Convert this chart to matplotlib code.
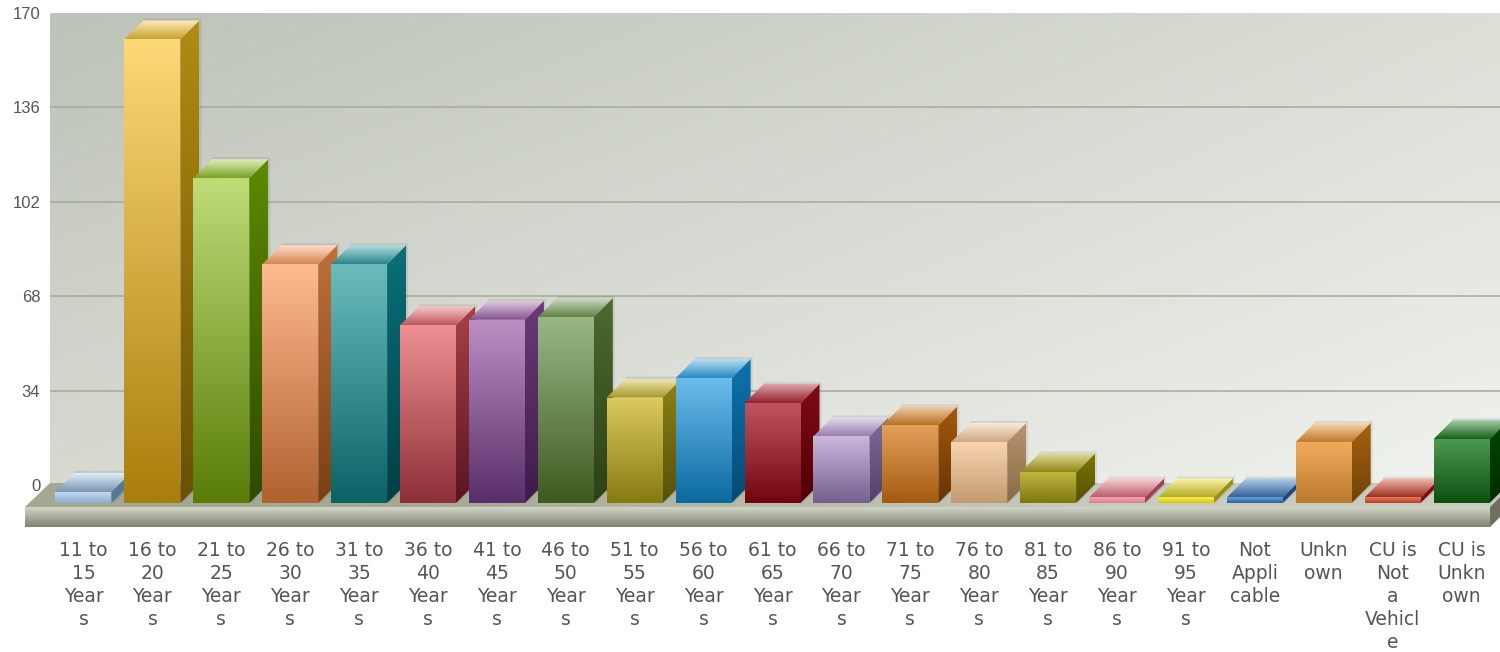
import numpy as np
import matplotlib
matplotlib.use("Agg")
import matplotlib.pyplot as plt
from matplotlib.colors import to_rgb
from matplotlib.patches import Polygon

categories = ["11 to\n15\nYear\ns", "16 to\n20\nYear\ns", "21 to\n25\nYear\ns", "26 to\n30\nYear\ns",
              "31 to\n35\nYear\ns", "36 to\n40\nYear\ns", "41 to\n45\nYear\ns", "46 to\n50\nYear\ns",
              "51 to\n55\nYear\ns", "56 to\n60\nYear\ns", "61 to\n65\nYear\ns", "66 to\n70\nYear\ns",
              "71 to\n75\nYear\ns", "76 to\n80\nYear\ns", "81 to\n85\nYear\ns", "86 to\n90\nYear\ns",
              "91 to\n95\nYear\ns", "Not\nAppli\ncable", "Unkn\nown", "CU is\nNot\na\nVehicl\ne", "CU is\nUnkn\nown"]
values = [4, 167, 117, 86, 86, 64, 66, 67, 38, 45, 36, 24, 28, 22, 11, 2, 2, 2, 22, 2, 23]
y_ticks = [0, 34, 68, 102, 136, 170]

top_colors = ["#c5dcef", "#fdd876", "#bfdc78", "#ffba90", "#6abcbc", "#ef8f92", "#bd8fc4", "#97b784",
              "#dccb5e", "#6cbcec", "#c0545e", "#cbb6dc", "#e2a05a", "#f8d5b0", "#bfb640", "#f5a5b0",
              "#f5ea55", "#6aa0d8", "#f2ab5e", "#e87a5c", "#4a9a4f"]
bottom_colors = ["#8fb0d0", "#a97e0c", "#5a7d08", "#b0622f", "#0b6266", "#8f2f38", "#5a2e6a", "#3e5b20",
                 "#857a10", "#0a6aa0", "#700510", "#75608f", "#a45a10", "#c49a70", "#7f7810", "#d8808a",
                 "#d8c810", "#2860a0", "#bc7a2c", "#b84026", "#0c5010"]
side_top = ["#55799a", "#b08c10", "#5c8a00", "#c0703a", "#0b7078", "#a84048", "#6a3a78", "#4e6a2e",
            "#8e8115", "#0c74ae", "#820a16", "#806c98", "#a35a0a", "#b9946e", "#7e7505", "#a04050",
            "#9a9010", "#1c4a80", "#a86210", "#801010", "#004800"]
side_bottom = ["#55799a", "#6b5005", "#2f4a00", "#7a4015", "#003f45", "#5a1520", "#3e1c4c", "#2c4115",
               "#57500a", "#074a72", "#4f0008", "#51406a", "#663404", "#8a6a48", "#565004", "#a04050",
               "#9a9010", "#1c4a80", "#6f4208", "#801010", "#002a00"]

W, H = 1500, 652
fig = plt.figure(figsize=(W / 100, H / 100), dpi=100, facecolor="white")


def px_axes(left, top, right, bottom, **kw):
    return fig.add_axes([left / W, 1 - bottom / H, (right - left) / W, (bottom - top) / H], **kw)


def gradient(c_low, c_high, n=64):
    lo, hi = np.array(to_rgb(c_low)), np.array(to_rgb(c_high))
    t = np.linspace(0, 1, n)[:, None]
    return (lo * (1 - t) + hi * t)[:, None, :]


def mix(c, other, t):
    return tuple(np.array(to_rgb(c)) * (1 - t) + np.array(to_rgb(other)) * t)


# wall with the value axis
wall = px_axes(50, 13, 1500, 485, zorder=0)
corners = [[to_rgb("#d8dad2"), to_rgb("#f0f2ee")], [to_rgb("#bdc3b9"), to_rgb("#dbdfd6")]]
u = np.linspace(0, 1, 80)[None, :, None]
v = np.linspace(0, 1, 80)[:, None, None]
c = np.array(corners)
img = (c[0, 0] * (1 - u) + c[0, 1] * u) * (1 - v) + (c[1, 0] * (1 - u) + c[1, 1] * u) * v
wall.imshow(img, extent=(0, 1, 0, 1), transform=wall.transAxes, origin="lower", aspect="auto",
            interpolation="bilinear", zorder=0)
wall.set_xlim(0, 1)
wall.set_ylim(0, 170)
wall.set_xticks([])
wall.set_yticks(y_ticks)
wall.tick_params(axis="y", length=0, pad=7, labelsize=12, labelcolor="#555555")
for lab in wall.get_yticklabels():
    lab.set_fontfamily("Liberation Sans")
wall.grid(axis="y", color="#a4ab93", lw=1.1, zorder=1)
wall.set_axisbelow(False)
for t in wall.yaxis.get_major_ticks():
    if t.get_loc() in (y_ticks[0], y_ticks[-1]):
        t.gridline.set_visible(False)
for s in wall.spines.values():
    s.set_visible(False)

# floor slab
floor = px_axes(0, 0, W, H, zorder=1)
floor.set_xlim(0, W)
floor.set_ylim(H, 0)
floor.axis("off")
floor.patch.set_alpha(0)
top_poly = Polygon([(25, 507), (50, 483), (1500, 483), (1500, 497), (1490, 507)], closed=True, fc="none", ec="none")
floor.add_patch(top_poly)
im = floor.imshow(np.array([[to_rgb("#a4a892"), to_rgb("#c8ccc0")]]), extent=(25, 1500, 507, 483), aspect="auto",
                  interpolation="bilinear")
im.set_clip_path(top_poly)
floor.imshow(gradient("#7e8270", "#d2d5c6"), extent=(25, 1490, 527, 507), origin="lower", aspect="auto",
             interpolation="bilinear")
floor.add_patch(Polygon([(1490, 507), (1500, 497), (1500, 517), (1490, 527)], closed=True, fc="#6c7060", ec="none"))
floor.set_xlim(0, W)
floor.set_ylim(H, 0)

# bars
px_per_cat = 68.9
px_per_val = 2.776
ax = px_axes(0, 503 - 180 * px_per_val, W, 503, zorder=2)
ax.patch.set_alpha(0)
x = np.arange(len(values))
width = 56 / px_per_cat
dx = 19 / px_per_cat
dy = 19 / px_per_val
sx = 2 / px_per_cat
sy = 2 / px_per_val

for i, val in enumerate(values):
    z = 3 + i
    x0, x1 = i - width / 2, i + width / 2
    # soft shadow behind the block
    ax.add_patch(Polygon([(x1 + sx, 0), (x1 + dx + sx, dy), (x1 + dx + sx, val + dy + sy), (x0 + dx, val + dy + sy),
                          (x0 + dx, val + dy), (x1, val)], closed=True, fc="#000000", alpha=0.08, ec="none", zorder=z))
    # side face
    side = Polygon([(x1, 0), (x1 + dx, dy), (x1 + dx, val + dy), (x1, val)], closed=True, fc="none", ec="none", zorder=z)
    ax.add_patch(side)
    im = ax.imshow(gradient(side_bottom[i], side_top[i]), extent=(x1, x1 + dx, 0, val + dy), origin="lower",
                   aspect="auto", interpolation="bilinear", zorder=z)
    im.set_clip_path(side)
    # top face
    topf = Polygon([(x0, val), (x1, val), (x1 + dx, val + dy), (x0 + dx, val + dy)], closed=True, fc="none", ec="none", zorder=z)
    ax.add_patch(topf)
    im = ax.imshow(gradient(mix(top_colors[i], side_top[i], 0.7), mix(top_colors[i], "white", 0.5)),
                   extent=(x0, x1 + dx, val, val + dy), origin="lower", aspect="auto", interpolation="bilinear", zorder=z)
    im.set_clip_path(topf)
    # front face
    bar = ax.bar(x[i], val, width=width, color=bottom_colors[i], zorder=z)[0]
    im = ax.imshow(gradient(bottom_colors[i], top_colors[i]), extent=(x0, x1, 0, val), origin="lower", aspect="auto",
                   interpolation="bilinear", zorder=z)
    im.set_clip_path(bar)

ax.set_xlim(-83.5 / px_per_cat, (W - 83.5) / px_per_cat)
ax.set_ylim(0, 180)
ax.set_yticks([])
ax.set_xticks(x)
ax.set_xticklabels(categories)
ax.tick_params(axis="x", length=0, pad=27, labelsize=13.5, labelcolor="#555555")
for lab in ax.get_xticklabels():
    lab.set_multialignment("center")
    lab.set_linespacing(1.28)
for s in ax.spines.values():
    s.set_visible(False)

fig.savefig("out.png", dpi=100)
